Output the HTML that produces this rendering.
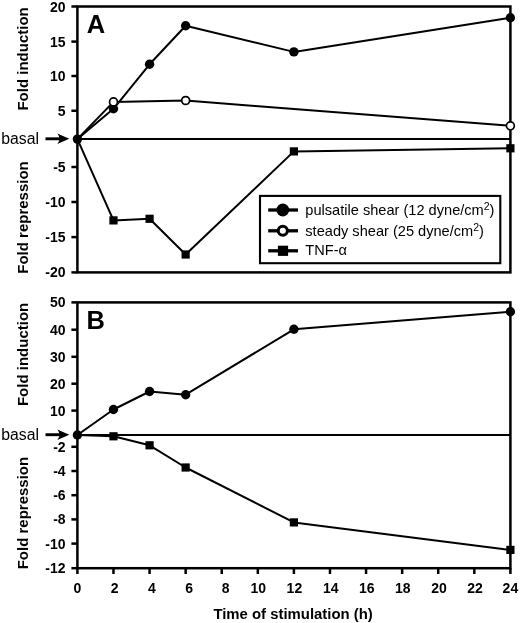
<!DOCTYPE html>
<html lang="en"><head><meta charset="utf-8"><title>Figure</title>
<style>html,body{margin:0;padding:0;background:#fff;}svg{display:block;filter:blur(0.35px);}text{font-family:"Liberation Sans",Arial,Helvetica,sans-serif;fill:#000;}.b{font-weight:bold;}.tk{font-weight:bold;font-size:14px;}.ti{font-weight:bold;font-size:15px;}.lg{font-size:14.6px;}.pl{font-weight:bold;font-size:25.5px;}</style></head><body>
<svg width="520" height="623" viewBox="0 0 520 623">
<rect x="0" y="0" width="520" height="623" fill="#fff"/>
<g fill="none" stroke="#000" stroke-width="2.50" stroke-linecap="butt">
<rect x="77.40" y="6.50" width="433.00" height="265.90"/>
<rect x="77.40" y="302.40" width="433.00" height="265.80"/>
<line x1="71.4" y1="6.50" x2="77.40" y2="6.50"/>
<line x1="71.4" y1="41.60" x2="77.40" y2="41.60"/>
<line x1="71.4" y1="76.00" x2="77.40" y2="76.00"/>
<line x1="71.4" y1="110.75" x2="77.40" y2="110.75"/>
<line x1="71.4" y1="167.00" x2="77.40" y2="167.00"/>
<line x1="71.4" y1="202.00" x2="77.40" y2="202.00"/>
<line x1="71.4" y1="237.10" x2="77.40" y2="237.10"/>
<line x1="71.4" y1="272.40" x2="77.40" y2="272.40"/>
<line x1="71.4" y1="302.40" x2="77.40" y2="302.40"/>
<line x1="71.4" y1="329.70" x2="77.40" y2="329.70"/>
<line x1="71.4" y1="356.80" x2="77.40" y2="356.80"/>
<line x1="71.4" y1="383.70" x2="77.40" y2="383.70"/>
<line x1="71.4" y1="410.60" x2="77.40" y2="410.60"/>
<line x1="71.4" y1="446.80" x2="77.40" y2="446.80"/>
<line x1="71.4" y1="471.00" x2="77.40" y2="471.00"/>
<line x1="71.4" y1="495.20" x2="77.40" y2="495.20"/>
<line x1="71.4" y1="519.40" x2="77.40" y2="519.40"/>
<line x1="71.4" y1="543.60" x2="77.40" y2="543.60"/>
<line x1="71.4" y1="568.20" x2="77.40" y2="568.20"/>
<line x1="77.40" y1="568.20" x2="77.40" y2="574"/>
<line x1="113.48" y1="568.20" x2="113.48" y2="574"/>
<line x1="149.57" y1="568.20" x2="149.57" y2="574"/>
<line x1="185.65" y1="568.20" x2="185.65" y2="574"/>
<line x1="221.73" y1="568.20" x2="221.73" y2="574"/>
<line x1="257.82" y1="568.20" x2="257.82" y2="574"/>
<line x1="293.90" y1="568.20" x2="293.90" y2="574"/>
<line x1="329.98" y1="568.20" x2="329.98" y2="574"/>
<line x1="366.07" y1="568.20" x2="366.07" y2="574"/>
<line x1="402.15" y1="568.20" x2="402.15" y2="574"/>
<line x1="438.23" y1="568.20" x2="438.23" y2="574"/>
<line x1="474.32" y1="568.20" x2="474.32" y2="574"/>
<line x1="510.40" y1="568.20" x2="510.40" y2="574"/>
</g>
<g fill="none" stroke="#000" stroke-width="2">
<line x1="77.40" y1="139.10" x2="510.40" y2="139.10"/>
<line x1="77.40" y1="435.00" x2="510.40" y2="435.00"/>
</g>
<polyline fill="none" stroke="#000" stroke-width="2.00" stroke-linejoin="round" points="77.40,139.10 113.48,220.40 149.57,218.80 185.65,254.50 293.90,151.40 510.40,148.30"/>
<polyline fill="none" stroke="#000" stroke-width="2.00" stroke-linejoin="round" points="77.40,139.10 113.48,101.90 185.65,100.50 510.40,125.80"/>
<polyline fill="none" stroke="#000" stroke-width="2.00" stroke-linejoin="round" points="77.40,139.10 113.48,108.80 149.57,64.30 185.65,25.70 293.90,51.90 510.40,17.80"/>
<rect x="109.38" y="216.30" width="8.20" height="8.20" fill="#000"/>
<rect x="145.47" y="214.70" width="8.20" height="8.20" fill="#000"/>
<rect x="181.55" y="250.40" width="8.20" height="8.20" fill="#000"/>
<rect x="289.80" y="147.30" width="8.20" height="8.20" fill="#000"/>
<rect x="506.30" y="144.20" width="8.20" height="8.20" fill="#000"/>
<circle cx="77.40" cy="139.10" r="4.70" fill="#000"/>
<circle cx="113.48" cy="108.80" r="4.70" fill="#000"/>
<circle cx="149.57" cy="64.30" r="4.70" fill="#000"/>
<circle cx="185.65" cy="25.70" r="4.70" fill="#000"/>
<circle cx="293.90" cy="51.90" r="4.70" fill="#000"/>
<circle cx="510.40" cy="17.80" r="4.70" fill="#000"/>
<circle cx="113.48" cy="101.90" r="3.95" fill="#fff" stroke="#000" stroke-width="1.7"/>
<circle cx="185.65" cy="100.50" r="3.95" fill="#fff" stroke="#000" stroke-width="1.7"/>
<circle cx="510.40" cy="125.80" r="3.95" fill="#fff" stroke="#000" stroke-width="1.7"/>
<polyline fill="none" stroke="#000" stroke-width="2.00" stroke-linejoin="round" points="77.40,435.00 113.48,436.30 149.57,445.30 185.65,467.50 293.90,522.40 510.40,549.90"/>
<polyline fill="none" stroke="#000" stroke-width="2.00" stroke-linejoin="round" points="77.40,435.00 113.48,409.50 149.57,391.50 185.65,394.70 293.90,329.30 510.40,311.80"/>
<rect x="109.38" y="432.20" width="8.20" height="8.20" fill="#000"/>
<rect x="145.47" y="441.20" width="8.20" height="8.20" fill="#000"/>
<rect x="181.55" y="463.40" width="8.20" height="8.20" fill="#000"/>
<rect x="289.80" y="518.30" width="8.20" height="8.20" fill="#000"/>
<rect x="506.30" y="545.80" width="8.20" height="8.20" fill="#000"/>
<circle cx="77.40" cy="435.00" r="4.70" fill="#000"/>
<circle cx="113.48" cy="409.50" r="4.70" fill="#000"/>
<circle cx="149.57" cy="391.50" r="4.70" fill="#000"/>
<circle cx="185.65" cy="394.70" r="4.70" fill="#000"/>
<circle cx="293.90" cy="329.30" r="4.70" fill="#000"/>
<circle cx="510.40" cy="311.80" r="4.70" fill="#000"/>
<text class="tk" x="65.6" y="11.50" text-anchor="end">20</text>
<text class="tk" x="65.6" y="46.60" text-anchor="end">15</text>
<text class="tk" x="65.6" y="81.00" text-anchor="end">10</text>
<text class="tk" x="65.6" y="115.75" text-anchor="end">5</text>
<text class="tk" x="65.6" y="172.00" text-anchor="end">-5</text>
<text class="tk" x="65.6" y="207.00" text-anchor="end">-10</text>
<text class="tk" x="65.6" y="242.10" text-anchor="end">-15</text>
<text class="tk" x="65.6" y="277.40" text-anchor="end">-20</text>
<text class="tk" x="65.6" y="307.40" text-anchor="end">50</text>
<text class="tk" x="65.6" y="334.70" text-anchor="end">40</text>
<text class="tk" x="65.6" y="361.80" text-anchor="end">30</text>
<text class="tk" x="65.6" y="388.70" text-anchor="end">20</text>
<text class="tk" x="65.6" y="415.60" text-anchor="end">10</text>
<text class="tk" x="65.6" y="451.80" text-anchor="end">-2</text>
<text class="tk" x="65.6" y="476.00" text-anchor="end">-4</text>
<text class="tk" x="65.6" y="500.20" text-anchor="end">-6</text>
<text class="tk" x="65.6" y="524.40" text-anchor="end">-8</text>
<text class="tk" x="65.6" y="548.60" text-anchor="end">-10</text>
<text class="tk" x="65.6" y="573.20" text-anchor="end">-12</text>
<text class="tk" x="77.50" y="593" text-anchor="middle">0</text>
<text class="tk" x="114.68" y="593" text-anchor="middle">2</text>
<text class="tk" x="151.97" y="593" text-anchor="middle">4</text>
<text class="tk" x="189.05" y="593" text-anchor="middle">6</text>
<text class="tk" x="225.73" y="593" text-anchor="middle">8</text>
<text class="tk" x="258.32" y="593" text-anchor="middle">10</text>
<text class="tk" x="294.40" y="593" text-anchor="middle">12</text>
<text class="tk" x="330.68" y="593" text-anchor="middle">14</text>
<text class="tk" x="366.77" y="593" text-anchor="middle">16</text>
<text class="tk" x="402.85" y="593" text-anchor="middle">18</text>
<text class="tk" x="438.93" y="593" text-anchor="middle">20</text>
<text class="tk" x="475.02" y="593" text-anchor="middle">22</text>
<text class="tk" x="510.40" y="593" text-anchor="middle">24</text>
<text class="ti" x="293.1" y="618.6" text-anchor="middle" style="font-size:14.9px">Time of stimulation (h)</text>
<text class="ti" transform="translate(27.50,58.90) rotate(-90)" text-anchor="middle">Fold induction</text>
<text class="ti" transform="translate(27.50,217.50) rotate(-90)" text-anchor="middle">Fold repression</text>
<text class="ti" transform="translate(27.50,354.40) rotate(-90)" text-anchor="middle">Fold induction</text>
<text class="ti" transform="translate(27.50,513.10) rotate(-90)" text-anchor="middle">Fold repression</text>
<text x="1.2" y="143.60" style="font-size:15.8px">basal</text>
<g fill="#000" stroke="none"><rect x="45.5" y="137.35" width="17" height="2.9"/><path d="M69.2,138.80 L57.4,133.50 Q61.6,138.80 57.4,144.10 Z"/></g>
<text x="1.2" y="439.50" style="font-size:15.8px">basal</text>
<g fill="#000" stroke="none"><rect x="45.5" y="433.25" width="17" height="2.9"/><path d="M69.2,434.70 L57.4,429.40 Q61.6,434.70 57.4,440.00 Z"/></g>
<text class="pl" x="86.7" y="32.8">A</text>
<text class="pl" x="86.6" y="328.8">B</text>
<rect x="260.0" y="195.9" width="240.3" height="67.3" fill="#fff" stroke="#000" stroke-width="2.1"/>
<line x1="268.2" y1="210.00" x2="298" y2="210.00" stroke="#000" stroke-width="3.3"/>
<line x1="268.2" y1="230.80" x2="298" y2="230.80" stroke="#000" stroke-width="3.3"/>
<line x1="268.2" y1="250.80" x2="298" y2="250.80" stroke="#000" stroke-width="3.3"/>
<circle cx="282.8" cy="210.00" r="6.4" fill="#000"/>
<circle cx="282.8" cy="230.80" r="4.55" fill="#fff" stroke="#000" stroke-width="3"/>
<rect x="277.90" y="245.70" width="10.20" height="10.20" fill="#000"/>
<text class="lg" x="305.3" y="215.30">pulsatile shear (12 dyne/cm<tspan dy="-5.5" style="font-size:10.5px">2</tspan><tspan dy="5.5">)</tspan></text>
<text class="lg" x="305.3" y="236.00">steady shear (25 dyne/cm<tspan dy="-5.5" style="font-size:10.5px">2</tspan><tspan dy="5.5">)</tspan></text>
<text class="lg" x="305.3" y="255.40">TNF-α</text>
</svg></body></html>
